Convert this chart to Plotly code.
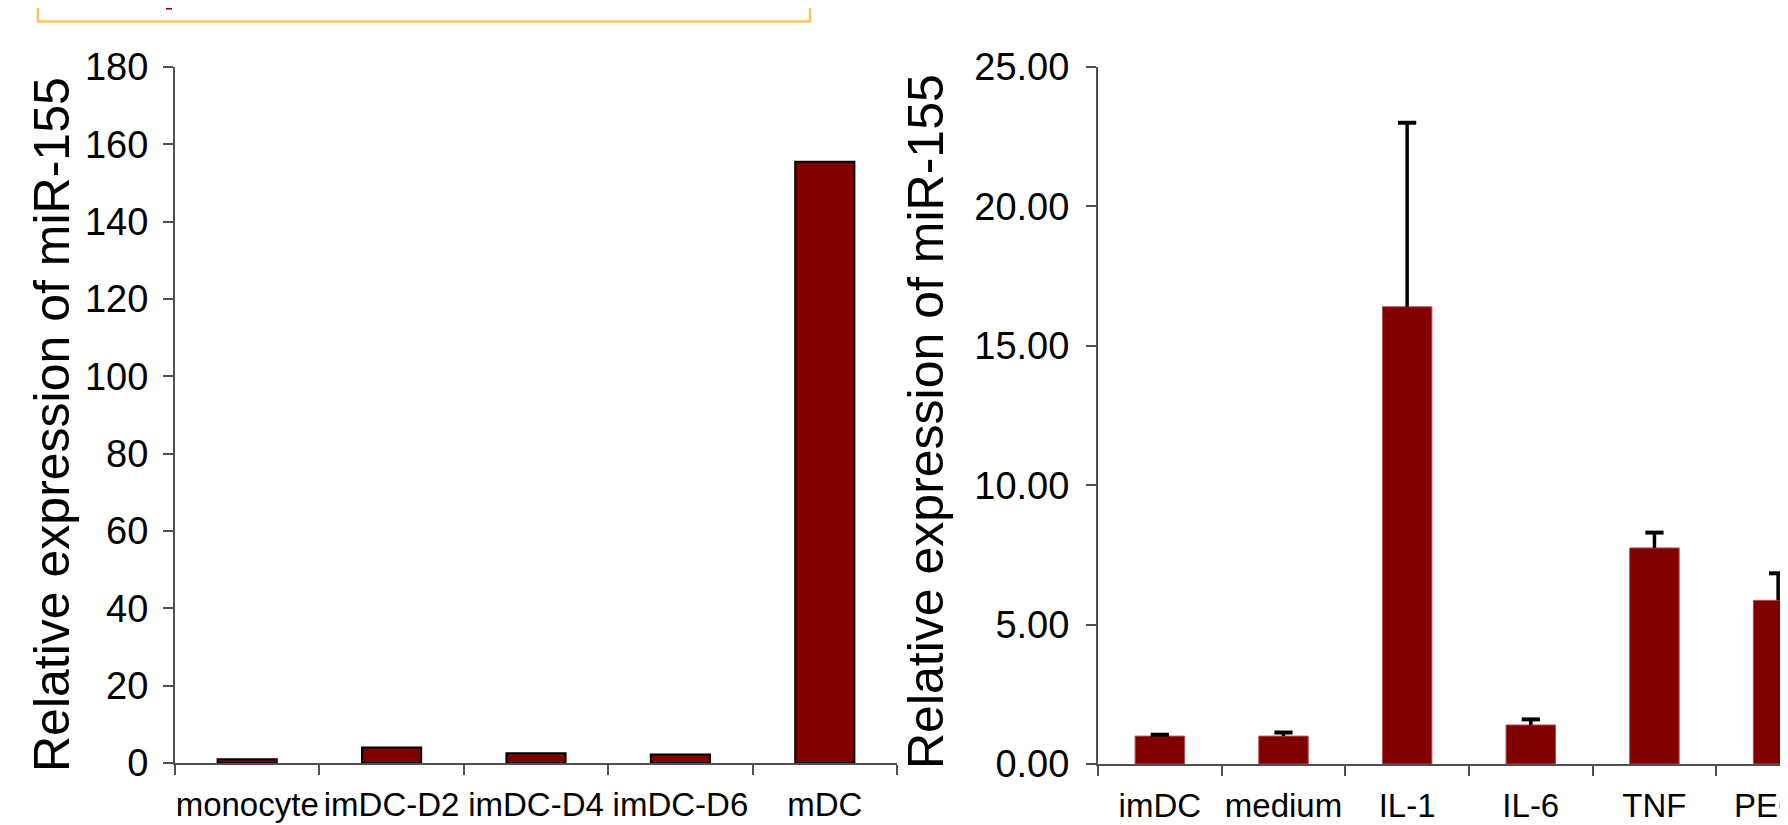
import plotly.graph_objects as go

# ---- data ----
left_categories = ["monocyte", "imDC-D2", "imDC-D4", "imDC-D6", "mDC"]
left_values = [1.0, 4.0, 2.5, 2.2, 155.5]

right_categories = ["imDC", "medium", "IL-1", "IL-6", "TNF", "PEG2"]
right_values = [1.0, 1.0, 16.4, 1.4, 7.75, 5.87]
right_errors = [0.05, 0.13, 6.6, 0.2, 0.55, 0.97]

left_ticks = list(range(0, 181, 20))
right_ticks = [0, 5, 10, 15, 20, 25]

ytitle = "Relative expression of miR-155"

# page is 1788x825; the browser's default body margin is 8 px
OFF = 8
W, H = 1788 - OFF, 825 - OFF
MAROON = "#800000"
AXIS = "#505050"
FONT = "Arial, Liberation Sans, sans-serif"

fig = go.Figure()

fig.add_trace(go.Bar(
    x=left_categories, y=left_values, xaxis="x", yaxis="y",
    width=0.41, marker=dict(color=MAROON, line=dict(color="black", width=2)),
    showlegend=False, hoverinfo="x+y",
))

fig.add_trace(go.Bar(
    x=right_categories, y=right_values, xaxis="x2", yaxis="y2",
    width=0.40, marker=dict(color=MAROON, line=dict(color="#b05050", width=1)),
    showlegend=False, hoverinfo="x+y",
))

# upper-only error bars: stems from bar top to bar top + error, then caps
stem_x, stem_y = [], []
for c, v, e in zip(right_categories, right_values, right_errors):
    stem_x += [c, c, None]
    stem_y += [v, v + e, None]
fig.add_trace(go.Scatter(
    x=stem_x, y=stem_y, xaxis="x2", yaxis="y2", mode="lines",
    line=dict(color="black", width=3.5), showlegend=False, hoverinfo="skip",
))
fig.add_trace(go.Scatter(
    x=right_categories, y=[v + e for v, e in zip(right_values, right_errors)],
    xaxis="x2", yaxis="y2", mode="markers",
    marker=dict(symbol="line-ew-open", size=13, color="black",
                line=dict(color="black", width=4)),
    showlegend=False, hoverinfo="skip",
))

def px_x(p):
    return (p - OFF) / W

def px_y(p):
    return (H - (p - OFF)) / H

common_x = dict(type="category", showline=True, linecolor=AXIS, linewidth=2,
                ticks="outside", tickson="boundaries", ticklen=10, tickwidth=2,
                tickcolor=AXIS, showgrid=False, zeroline=False, automargin=False,
                ticklabelstandoff=11, tickangle=0,
                tickfont=dict(family=FONT, size=33, color="black"))
common_y = dict(showline=True, linecolor=AXIS, linewidth=2, ticks="outside",
                ticklen=10, tickwidth=2, tickcolor=AXIS, showgrid=False,
                zeroline=False, automargin=False,
                tickfont=dict(family=FONT, size=38, color="black"))

fig.update_layout(
    width=W, height=H, autosize=False,
    margin=dict(l=0, r=0, t=0, b=0, autoexpand=False),
    paper_bgcolor="white", plot_bgcolor="white",
    xaxis=dict(common_x, domain=[px_x(175), px_x(897)], range=[-0.5, 4.5], anchor="y"),
    yaxis=dict(common_y, domain=[px_y(763), px_y(67)], range=[0, 180],
               tickvals=left_ticks, ticklabelstandoff=7, anchor="x"),
    xaxis2=dict(common_x, domain=[px_x(1098), 1.0], range=[-0.5, 5.08], anchor="y2"),
    yaxis2=dict(common_y, domain=[px_y(764), px_y(67)], range=[0, 25],
                tickvals=right_ticks, tickformat=".2f", ticklabelstandoff=9,
                anchor="x2"),
    annotations=[
        dict(text=ytitle, textangle=-90, xref="paper", yref="paper",
             x=px_x(52), y=px_y(425), xanchor="center", yanchor="middle",
             showarrow=False, font=dict(family=FONT, size=50, color="black")),
        dict(text=ytitle, textangle=-90, xref="paper", yref="paper",
             x=px_x(926), y=px_y(422), xanchor="center", yanchor="middle",
             showarrow=False, font=dict(family=FONT, size=50, color="black")),
    ],
    shapes=[
        dict(type="rect", xref="paper", yref="paper",
             x0=px_x(38), x1=px_x(810), y0=px_y(21.5), y1=1.05,
             line=dict(color="#FFC25A", width=2.5), fillcolor="rgba(0,0,0,0)"),
        dict(type="rect", xref="paper", yref="paper",
             x0=px_x(166), x1=px_x(172), y0=px_y(9.5), y1=1.0,
             line=dict(width=0), fillcolor=MAROON),
    ],
)

fig.write_html("out.html")
